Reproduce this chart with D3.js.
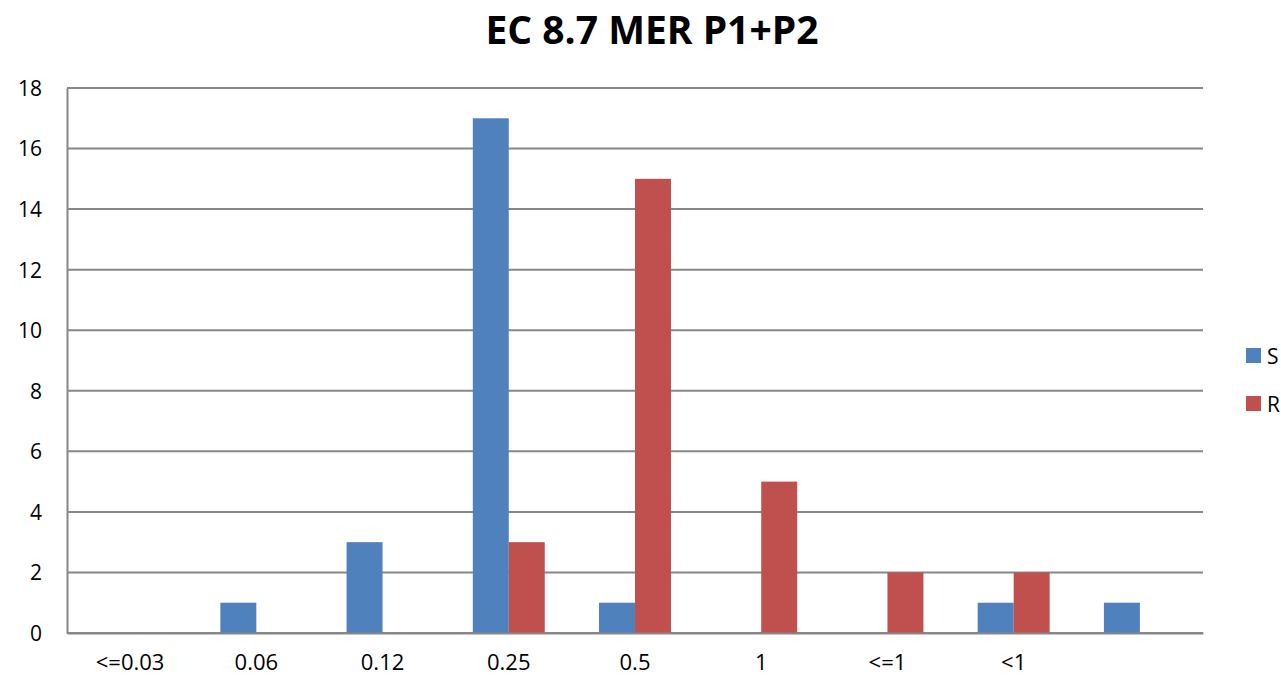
<!DOCTYPE html>
<html lang="en">
<head>
<meta charset="UTF-8">
<title>EC 8.7 MER P1+P2</title>
<script src="https://d3js.org/d3.v7.min.js"></script>
<style>
    body { margin: 0; background: #fff; }
    svg text { font-family: "Open Sans", "Liberation Sans", sans-serif; fill: #000; }
</style>
</head>
<body>
<svg id="chart" width="1281" height="681"></svg>
<script>
    const categories = ["<=0.03", "0.06", "0.12", "0.25", "0.5", "1", "<=1", "<1", ""];
    const seriesNames = ["S", "R"];
    const sValues = [0, 1, 3, 17, 1, 0, 0, 1, 1];
    const rValues = [0, 0, 0, 3, 15, 5, 2, 2, 0];
    const yTicks = [0, 2, 4, 6, 8, 10, 12, 14, 16, 18];
    const colors = ["#4F81BD", "#C0504D"];

    const margin = {top: 88, right: 78, bottom: 48, left: 67},
        width = 1281 - margin.left - margin.right,
        height = 681 - margin.top - margin.bottom;

    const svg = d3.select("#chart");

    svg.append("text")
        .attr("x", 652)
        .attr("y", 44)
        .attr("text-anchor", "middle")
        .style("font-size", "39px")
        .style("font-weight", "bold")
        .text("EC 8.7 MER P1+P2");

    const g = svg.append("g")
        .attr("transform", "translate(" + margin.left + "," + margin.top + ")");

    const x = d3.scaleBand().domain(d3.range(categories.length)).range([0, width]).paddingInner(0).paddingOuter(0);
    const y = d3.scaleLinear().domain([0, 18]).range([height, 0]);

    // bar slot: two bars take 72/126 of each category
    const barW = x.bandwidth() * 36 / 126.3;
    const groupOff = (x.bandwidth() - 2 * barW) / 2;

    // gridlines
    g.selectAll(".grid")
        .data(yTicks)
        .join("line")
        .attr("x1", 0)
        .attr("x2", width)
        .attr("y1", d => y(d))
        .attr("y2", d => y(d))
        .attr("stroke", "#878787")
        .attr("stroke-width", 2);

    // y axis
    const yAxis = d3.axisLeft(y).tickValues(yTicks).tickSize(0).tickPadding(25);
    const ya = g.append("g").call(yAxis);
    ya.select(".domain").attr("stroke", "#878787").attr("stroke-width", 2);
    ya.selectAll("text").style("font-size", "21px").attr("dy", "0.35em");

    const data = categories.map((c, i) => ({i: i, vals: [sValues[i], rValues[i]]}));

    const groups = g.selectAll(".cat")
        .data(data)
        .join("g")
        .attr("transform", d => "translate(" + (x(d.i) + groupOff) + ",0)");

    groups.selectAll("rect")
        .data(d => d.vals.map((v, k) => ({v: v, k: k})))
        .join("rect")
        .attr("x", d => d.k * barW)
        .attr("width", barW)
        .attr("y", d => y(d.v))
        .attr("height", d => height - y(d.v))
        .attr("fill", d => colors[d.k]);

    // x axis
    const xAxis = d3.axisBottom(x).tickFormat(i => categories[i]).tickSize(0).tickPadding(21);
    const xa = g.append("g").attr("transform", "translate(0," + height + ")").call(xAxis);
    xa.select(".domain").attr("stroke", "#878787").attr("stroke-width", 2);
    xa.selectAll("text").style("font-size", "22px");

    // legend
    const legend = svg.append("g").attr("transform", "translate(1246,348)");
    seriesNames.forEach((name, k) => {
        legend.append("rect")
            .attr("x", 0)
            .attr("y", k * 48)
            .attr("width", 15)
            .attr("height", 15)
            .attr("fill", colors[k]);
        legend.append("text")
            .attr("x", 21)
            .attr("y", k * 48 + 16)
            .style("font-size", "21px")
            .text(name);
    });
</script>
</body>
</html>
